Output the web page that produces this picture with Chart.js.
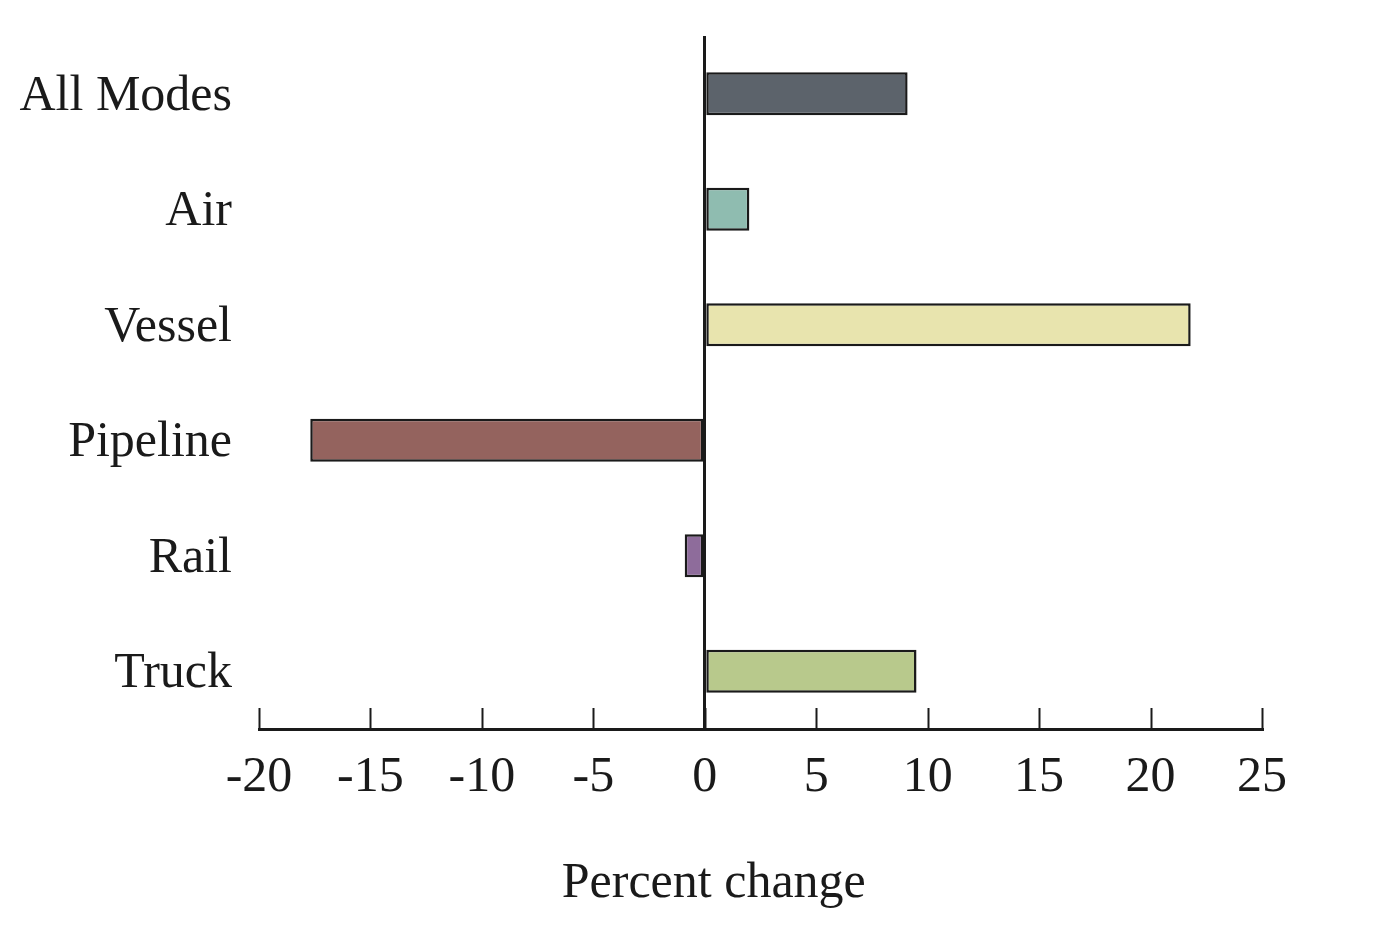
<!DOCTYPE html>
<html>
<head>
<meta charset="utf-8">
<script src="https://cdn.jsdelivr.net/npm/chart.js@4.4.1/dist/chart.umd.min.js"></script>
<style>
  html, body { margin: 0; padding: 0; background: #ffffff; }
  #wrap { width: 1399px; height: 951px; }
</style>
</head>
<body>
<div id="wrap"><canvas id="c" width="1399" height="951"></canvas></div>
<script>
// ---- data ----
const categories = ['All Modes', 'Air', 'Vessel', 'Pipeline', 'Rail', 'Truck'];
const percentChange = [9.1, 2.0, 21.8, -17.7, -0.9, 9.5];
const barColors = ['#5c636b', '#8fbcb0', '#e8e4ae', '#94635e', '#8e6c9b', '#b8c98c'];
const xTickValues = [-20, -15, -10, -5, 0, 5, 10, 15, 20, 25];
const xAxisTitle = 'Percent change';

// ---- style ----
const FONT = "'Liberation Serif', 'Times New Roman', serif";
const INK = '#1a1a1a';
const FS = 50;

const inwardTicks = {
  id: 'inwardTicks',
  afterDraw(chart) {
    const xs = chart.scales.x;
    const ctx = chart.ctx;
    const bottom = chart.chartArea.bottom;
    ctx.save();
    ctx.strokeStyle = INK;
    ctx.lineWidth = 2;
    xTickValues.forEach(v => {
      const px = Math.round(xs.getPixelForValue(v)) + 0.5;
      ctx.beginPath();
      ctx.moveTo(px, bottom);
      ctx.lineTo(px, bottom - 21);
      ctx.stroke();
    });
    // axis title
    ctx.fillStyle = INK;
    ctx.font = FS + 'px ' + FONT;
    ctx.textAlign = 'center';
    ctx.textBaseline = 'alphabetic';
    ctx.fillText(xAxisTitle, xs.getPixelForValue(0) + 9, 897);
    ctx.restore();
  }
};

new Chart(document.getElementById('c'), {
  type: 'bar',
  data: {
    labels: categories,
    datasets: [{
      data: percentChange,
      backgroundColor: barColors,
      borderColor: INK,
      borderWidth: 2.5,
      borderSkipped: false,
      categoryPercentage: 1.0,
      barPercentage: 0.372
    }]
  },
  options: {
    indexAxis: 'y',
    responsive: false,
    animation: false,
    devicePixelRatio: 1,
    layout: { padding: { top: 36, right: 137, left: 0, bottom: 0 } },
    plugins: { legend: { display: false }, tooltip: { enabled: false }, title: { display: false } },
    scales: {
      x: {
        type: 'linear',
        position: 'bottom',
        min: -20,
        max: 25,
        z: 1,
        afterBuildTicks(scale) { scale.ticks = xTickValues.map(v => ({ value: v })); },
        afterFit(scale) { scale.height = 951 - 729; },
        ticks: {
          font: { family: FONT, size: FS },
          color: INK,
          padding: 19,
          maxRotation: 0,
          autoSkip: false
        },
        grid: {
          drawTicks: false,
          lineWidth: 3,
          color: (ctx) => (ctx.tick && ctx.tick.value === 0) ? INK : 'rgba(0,0,0,0)'
        },
        border: { display: true, color: INK, width: 3 }
      },
      y: {
        type: 'category',
        position: 'left',
        afterFit(scale) { scale.width = 259; scale.paddingTop = 0; scale.paddingBottom = 0; },
        ticks: {
          font: { family: FONT, size: FS },
          color: INK,
          padding: 27,
          labelOffset: 3,
          autoSkip: false
        },
        grid: { display: false, drawTicks: false },
        border: { display: false }
      }
    }
  },
  plugins: [inwardTicks]
});
</script>
</body>
</html>
